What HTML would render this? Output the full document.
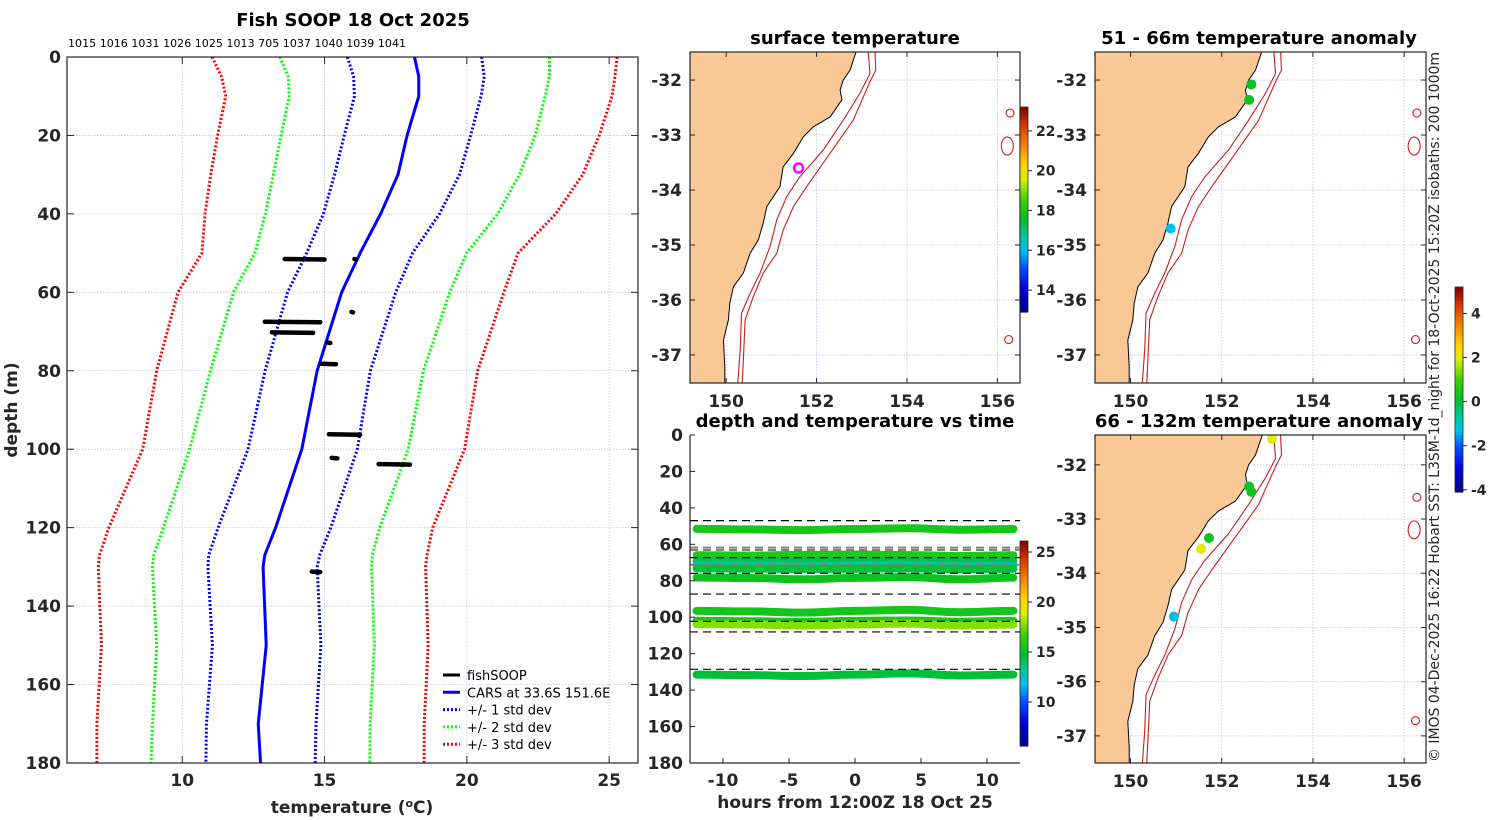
<!DOCTYPE html>
<html><head><meta charset="utf-8">
<style>
html,body{margin:0;padding:0;background:#fff;}
svg{display:block;font-family:"DejaVu Sans","Liberation Sans",sans-serif;}
.tk{font-size:17px;font-weight:bold;fill:#262626;}
.ttl{font-size:18px;font-weight:bold;fill:#000;}
.cb{font-size:14px;font-weight:bold;fill:#262626;}
</style></head>
<body>
<svg id="fig" width="1500" height="820" viewBox="0 0 1500 820">
<defs>
<clipPath id="c1"><rect x="690" y="52" width="330" height="331"/></clipPath>
<clipPath id="c2"><rect x="1095" y="52" width="331" height="331"/></clipPath>
<clipPath id="c3"><rect x="1095" y="435" width="331" height="328"/></clipPath>
<clipPath id="c0"><rect x="67" y="57" width="571" height="706"/></clipPath>
<clipPath id="c4"><rect x="690" y="435" width="330" height="328"/></clipPath>
</defs>
<text class="ttl" x="353" y="26" text-anchor="middle">Fish SOOP 18 Oct 2025</text>
<text x="68" y="47" font-size="11" fill="#000" textLength="338">1015 1016 1031 1026 1025 1013 705 1037 1040 1039 1041</text>
<text class="tk" transform="translate(17,410) rotate(-90)" text-anchor="middle">depth (m)</text>
<text class="tk" x="352" y="813" text-anchor="middle">temperature (<tspan baseline-shift="super" font-size="11">o</tspan>C)</text>
<text class="ttl" x="855" y="44" text-anchor="middle">surface temperature</text>
<text class="ttl" x="1259" y="44" text-anchor="middle">51 - 66m temperature anomaly</text>
<text class="ttl" x="855" y="427" text-anchor="middle">depth and temperature vs time</text>
<text class="ttl" x="1259" y="427" text-anchor="middle">66 - 132m temperature anomaly</text>
<text class="tk" x="855" y="808" text-anchor="middle">hours from 12:00Z 18 Oct 25</text>
<text transform="translate(1439,762) rotate(-90)" font-size="14" fill="#262626" textLength="710">© IMOS 04-Dec-2025 16:22 Hobart SST: L3SM-1d_night for 18-Oct-2025 15:20Z isobaths: 200  1000m</text>
</svg>
<script>
// ---------- profile data ----------
const depths=[0,5,10,20,30,40,50,60,80,100,120,127,130,150,170,180];
const carsT=[18.16,18.31,18.31,17.9,17.58,16.97,16.25,15.6,14.74,14.2,13.28,12.9,12.84,12.95,12.67,12.75];
const m1T=[15.8,16.02,16.05,15.69,15.35,14.96,14.37,13.7,12.91,12.31,11.26,10.93,10.9,11.06,10.85,10.83];
const p1T=[20.52,20.61,20.5,20.13,19.74,19.04,18.09,17.5,16.61,16.15,15.22,14.83,14.74,14.87,14.7,14.67];
const m2T=[13.43,13.72,13.76,13.47,13.2,12.92,12.55,11.8,10.99,10.26,9.34,9.0,8.95,9.1,8.95,8.9];
const p2T=[22.9,22.9,22.75,22.4,21.85,21.08,19.99,19.4,18.47,17.94,16.94,16.68,16.65,16.75,16.6,16.59];
const m3T=[11.05,11.38,11.53,11.24,11.0,10.8,10.69,9.85,9.1,8.61,7.42,7.09,7.05,7.16,7.0,7.0];
const p3T=[25.28,25.2,25.1,24.65,24.07,23.12,21.8,21.3,20.38,19.92,18.8,18.6,18.55,18.64,18.5,18.5];
const fishDepth=[51.5,51.5,67.5,70.2,72.8,78.2,65.0,96.2,102.2,103.8,131.2];
const fishT0=[13.6,16.05,12.9,13.15,15.1,14.9,15.95,15.15,15.25,16.9,14.55];
const fishT1=[15.0,16.1,14.85,14.6,15.2,15.4,16.0,16.25,15.45,18.0,14.85];
const tempTicks=[10,15,20,25];
const depthTicks=[0,20,40,60,80,100,120,140,160,180];
// ---------- time chart data ----------
const hours=[-12,-8,-4,0,4,8,12];
const bandDepth=[[51.5,51.8,52.2,51.6,51.2,52.0,51.6],[66.0,66.2,65.8,65.6,65.9,66.4,66.0],[69.0,69.3,69.5,69.2,69.0,69.4,69.2],[71.5,71.8,72.2,71.8,71.5,72.0,71.8],[73.2,73.3,73.5,73.4,73.2,73.6,73.4],[78.2,78.5,79.2,78.4,78.0,79.2,78.3],[96.5,96.8,97.5,96.5,96.0,97.3,96.5],[102.0,102.2,102.6,102.0,101.8,102.5,102.0],[103.8,104.0,104.6,104.0,103.5,104.6,104.0],[131.5,131.8,132.3,131.5,130.8,132.0,131.5]];
const bandTemp=[15.6,15.9,14.2,13.2,14.6,15.3,15.5,15.8,17.8,14.6];
const dashDepth=[47.0,61.8,63.1,67.3,71.2,75.9,87.3,102.3,108.1,128.6];
const dashGray=[0,1,1,0,1,0,0,0,0,0];
const hourTicks=[-10,-5,0,5,10];
// ---------- map data ----------
const coastLon=[152.89,152.74,152.59,152.52,152.56,152.30,151.93,151.71,151.49,151.26,151.19,150.90,150.82,150.71,150.53,150.38,150.16,150.08,150.05,149.94,149.97,149.97];
const coastLat=[-31.45,-31.82,-32.0,-32.18,-32.36,-32.67,-32.85,-33.03,-33.33,-33.58,-33.94,-34.30,-34.60,-34.91,-35.15,-35.51,-35.76,-36.06,-36.36,-36.73,-37.21,-37.6];
const iso200Lon=[153.14,153.18,152.96,152.59,152.15,151.63,151.34,151.12,150.97,150.75,150.53,150.34,150.31,150.25];
const iso200Lat=[-31.45,-31.88,-32.24,-32.73,-33.27,-33.76,-34.12,-34.54,-35.03,-35.51,-35.88,-36.24,-36.91,-37.6];
const iso1000Lon=[153.29,153.31,153.18,152.81,152.30,151.78,151.49,151.26,151.12,150.82,150.60,150.42,150.38,150.35];
const iso1000Lat=[-31.45,-31.82,-32.03,-32.73,-33.33,-33.94,-34.30,-34.73,-35.15,-35.51,-35.94,-36.36,-37.09,-37.6];
const seaLon=[156.28,156.22,156.25];
const seaLat=[-32.6,-33.2,-36.72];
const a1Lon=[152.65,152.6,150.88];
const a1Lat=[-32.08,-32.36,-34.7];
const a1Val=[0.2,0.3,-1.3];
const a2Lon=[153.1,152.6,152.65,151.72,151.55,150.95];
const a2Lat=[-31.52,-32.4,-32.5,-33.35,-33.55,-34.8];
const a2Val=[2.1,0.3,0.3,0.3,2.0,-1.2];
const shipLon=151.6, shipLat=-33.6;
const lonTicks=[150,152,154,156];
const latTicks=[-32,-33,-34,-35,-36,-37];

const NS='http://www.w3.org/2000/svg';
const fig=document.getElementById('fig');
function mk(tag,attrs,parent){const e=document.createElementNS(NS,tag);for(const k in attrs)e.setAttribute(k,attrs[k]);(parent||fig).appendChild(e);return e;}
const cmapStops=[[0,[0,0,128]],[0.12,[0,0,230]],[0.22,[0,80,255]],[0.3,[0,190,240]],[0.37,[0,200,160]],[0.45,[0,190,40]],[0.55,[60,210,0]],[0.65,[220,240,0]],[0.72,[255,210,0]],[0.82,[240,130,0]],[0.92,[210,50,0]],[1,[128,0,0]]];
function jet(v){v=Math.max(0,Math.min(1,v));for(let i=1;i<cmapStops.length;i++){const a=cmapStops[i-1],b=cmapStops[i];if(v<=b[0]){const f=(v-a[0])/(b[0]-a[0]);const c=a[1].map((x,k)=>Math.round(x+(b[1][k]-x)*f));return `rgb(${c[0]},${c[1]},${c[2]})`;}}return 'rgb(128,0,0)';}

// ---------- left profile ----------
const xT=t=>67+(t-5.95)*28.46, yD=d=>57+d*3.922;
const gP=mk('g',{});


tempTicks.forEach(t=>{const l=mk('line',{x1:xT(t),x2:xT(t),y1:57,y2:763,stroke:'#b8c0e8','stroke-width':0.8,'stroke-dasharray':'1.5,1.5'},gP);});
depthTicks.forEach(d=>{if(d>0&&d<180){const l=mk('line',{x1:67,x2:638,y1:yD(d),y2:yD(d),stroke:'#c8c0d8','stroke-width':0.8,'stroke-dasharray':'1.5,1.5'},gP);}});
const gClip=mk('g',{'clip-path':'url(#c0)'},gP);
function prof(arr,col,dash,name,w){const pts=arr.map((t,i)=>xT(t)+','+yD(depths[i])).join(' ');const p=mk('polyline',{points:pts,fill:'none',stroke:col,'stroke-width':w,'stroke-dasharray':dash},gClip);}
prof(m3T,'#ff0000','2,2','minus-3-std-line',3);prof(p3T,'#ff0000','2,2','plus-3-std-line',3);
prof(m2T,'#00ff00','2,2','minus-2-std-line',3);prof(p2T,'#00ff00','2,2','plus-2-std-line',3);
prof(m1T,'#0000ff','2,2','minus-1-std-line',3);prof(p1T,'#0000ff','2,2','plus-1-std-line',3);
prof(carsT,'#0000ff','none','cars-mean-line',3);
fishDepth.forEach((d,i)=>{const l=mk('line',{x1:xT(fishT0[i]),x2:xT(fishT1[i]),y1:yD(d),y2:yD(d)+0.5,stroke:'#000','stroke-width':4.5,'stroke-linecap':'round'},gClip);});
const fr=mk('rect',{x:67,y:57,width:571,height:706,fill:'none',stroke:'#262626','stroke-width':1.2},gP);

tempTicks.forEach(t=>{mk('line',{x1:xT(t),x2:xT(t),y1:763,y2:756,stroke:'#262626'},gP);mk('line',{x1:xT(t),x2:xT(t),y1:57,y2:64,stroke:'#262626'},gP);const tx=mk('text',{x:xT(t),y:786,class:'tk','text-anchor':'middle'},gP);tx.textContent=t;});
depthTicks.forEach(d=>{mk('line',{x1:67,x2:74,y1:yD(d),y2:yD(d),stroke:'#262626'},gP);mk('line',{x1:638,x2:631,y1:yD(d),y2:yD(d),stroke:'#262626'},gP);const tx=mk('text',{x:61,y:yD(d)+6,class:'tk','text-anchor':'end'},gP);tx.textContent=d;});
// legend
const legItems=[['fishSOOP','#000','none'],['CARS at 33.6S 151.6E','#0000ff','none'],['+/- 1 std dev','#0000ff','2,2'],['+/- 2 std dev','#00ff00','2,2'],['+/- 3 std dev','#ff0000','2,2']];
const gL=mk('g',{},gP);
legItems.forEach((it,i)=>{const y=675+i*17.3;const g=mk('g',{},gL);mk('line',{x1:443,x2:460,y1:y,y2:y,stroke:it[1],'stroke-width':3,'stroke-dasharray':it[2]},g);const t=mk('text',{x:467,y:y+5,'font-size':13,fill:'#000'},g);t.textContent=it[0];});

// ---------- maps ----------
function drawMap(name,x0,y0,w,h,lonMin,lonMax,latMax,latMin,clip,dotsLon,dotsLat,dotsVal,ship){
  const g=mk('g',{});
  const X=lon=>x0+(lon-lonMin)/(lonMax-lonMin)*w, Y=lat=>y0+(latMax-lat)/(latMax-latMin)*h;
  const gc=mk('g',{'clip-path':`url(#${clip})`},g);
  lonTicks.forEach(l=>mk('line',{x1:X(l),x2:X(l),y1:y0,y2:y0+h,stroke:'#b8c0e8','stroke-width':0.8,'stroke-dasharray':'1.5,1.5'},gc));
  latTicks.forEach(l=>mk('line',{x1:x0,x2:x0+w,y1:Y(l),y2:Y(l),stroke:'#c8c0d8','stroke-width':0.8,'stroke-dasharray':'1.5,1.5'},gc));
  let pts=coastLon.map((lo,i)=>X(lo)+','+Y(coastLat[i])).join(' ');
  const land=mk('polygon',{points:pts+` ${x0-5},${y0+h+5} ${x0-5},${y0-5}`,fill:'#f9c895',stroke:'#000','stroke-width':1},gc);
  
  [[iso200Lon,iso200Lat,'isobath-200m'],[iso1000Lon,iso1000Lat,'isobath-1000m']].forEach(s=>{const p=mk('polyline',{points:s[0].map((lo,i)=>X(lo)+','+Y(s[1][i])).join(' '),fill:'none',stroke:'#c81e1e','stroke-width':1.1},gc);});
  seaLon.forEach((lo,i)=>{const e=mk('ellipse',{cx:X(lo),cy:Y(seaLat[i]),rx:i==1?6:4,ry:i==1?9:4,fill:'none',stroke:'#c81e1e','stroke-width':1.1},gc);});
  if(ship){const c=mk('circle',{cx:X(shipLon),cy:Y(shipLat),r:4.5,fill:'none',stroke:'#ff00ff','stroke-width':2.5},gc);}
  if(dotsLon)dotsLon.forEach((lo,i)=>{const c=mk('circle',{cx:X(lo),cy:Y(dotsLat[i]),r:5,fill:jet((dotsVal[i]+4.1)/9.3)},gc);});
  mk('rect',{x:x0,y:y0,width:w,height:h,fill:'none',stroke:'#262626','stroke-width':1.2},g);
  lonTicks.forEach(l=>{mk('line',{x1:X(l),x2:X(l),y1:y0,y2:y0+5,stroke:'#262626'},g);mk('line',{x1:X(l),x2:X(l),y1:y0+h,y2:y0+h-5,stroke:'#262626'},g);const t=mk('text',{x:X(l),y:y0+h+24,class:'tk','text-anchor':'middle'},g);t.textContent=l;});
  latTicks.forEach(l=>{mk('line',{x1:x0,x2:x0+5,y1:Y(l),y2:Y(l),stroke:'#262626'},g);mk('line',{x1:x0+w,x2:x0+w-5,y1:Y(l),y2:Y(l),stroke:'#262626'},g);const t=mk('text',{x:x0-8,y:Y(l)+6,class:'tk','text-anchor':'end'},g);t.textContent=l;});
}
drawMap('surface-temperature-map',690,52,330,331,149.2,156.5,-31.49,-37.51,'c1',null,null,null,true);
drawMap('anomaly-map-51-66m',1095,52,331,331,149.22,156.48,-31.49,-37.51,'c2',a1Lon,a1Lat,a1Val,false);
drawMap('anomaly-map-66-132m',1095,435,331,328,149.22,156.48,-31.45,-37.5,'c3',a2Lon,a2Lat,a2Val,false);

// ---------- colorbars ----------
function colorbar(name,x,y,w,h,vmin,vmax,ticks){
  const g=mk('g',{});
  const n=64;for(let i=0;i<n;i++){mk('rect',{x:x,y:y+h-(i+1)*h/n,width:w,height:h/n+0.6,fill:jet((i+0.5)/n)},g);}
  mk('rect',{x:x,y:y,width:w,height:h,fill:'none',stroke:'#262626','stroke-width':0.8},g);
  ticks.forEach(t=>{const yy=y+h-(t-vmin)/(vmax-vmin)*h;mk('line',{x1:x+w,x2:x+w+4,y1:yy,y2:yy,stroke:'#262626'},g);const tx=mk('text',{x:x+w+8,y:yy+5,class:'cb'},g);tx.textContent=t;});
}
colorbar('sst-colorbar',1020,107,8,205,12.9,23.2,[14,16,18,20,22]);
colorbar('anomaly-colorbar',1455,287,8,205,-4.1,5.2,[-4,-2,0,2,4]);
colorbar('time-colorbar',1020,541,8,205,5.6,26.1,[10,15,20,25]);

// ---------- time chart ----------
const xH=h=>855+h*13.2, yT=d=>435+d*1.822;
const gT=mk('g',{});
const gTc=mk('g',{'clip-path':'url(#c4)'},gT);
bandDepth.forEach((arr,bi)=>{
  let d='M'+xH(hours[0])+','+yT(arr[0]);
  for(let i=1;i<hours.length;i++){const xm=(xH(hours[i-1])+xH(hours[i]))/2;d+=` C${xm},${yT(arr[i-1])} ${xm},${yT(arr[i])} ${xH(hours[i])},${yT(arr[i])}`;}
  const p=mk('path',{d:d,fill:'none',stroke:jet((bandTemp[bi]-5.6)/20.5),'stroke-width':8,'stroke-linecap':'round'},gTc);
  
});
dashDepth.forEach((d,i)=>{const l=mk('line',{x1:690,x2:1020,y1:yT(d),y2:yT(d),stroke:dashGray[i]?'#808080':'#000','stroke-width':dashGray[i]?2:1.2,'stroke-dasharray':'8,5'},gTc);});
mk('line',{x1:690,x2:690,y1:435,y2:763,stroke:'#262626','stroke-width':1.2},gT);
mk('line',{x1:690,x2:1020,y1:763,y2:763,stroke:'#262626','stroke-width':1.2},gT);
hourTicks.forEach(h=>{mk('line',{x1:xH(h),x2:xH(h),y1:763,y2:758,stroke:'#262626'},gT);const t=mk('text',{x:xH(h),y:786,class:'tk','text-anchor':'middle'},gT);t.textContent=h;});
depthTicks.forEach(d=>{mk('line',{x1:690,x2:695,y1:yT(d),y2:yT(d),stroke:'#262626'},gT);const t=mk('text',{x:683,y:yT(d)+6,class:'tk','text-anchor':'end'},gT);t.textContent=d;});
</script>
</body></html>
